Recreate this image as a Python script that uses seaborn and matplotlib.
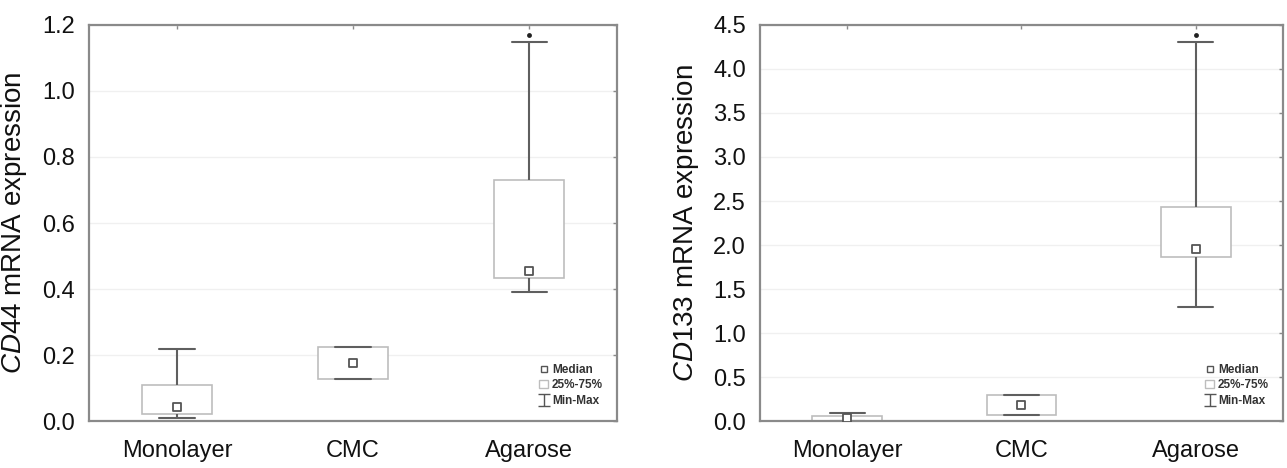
# Gráfico de cajas con la expresión de CD44 y CD133 en los tres tipos de cultivo

import numpy as np
import pandas as pd
import seaborn as sns
import matplotlib.pyplot as plt
from matplotlib.lines import Line2D
from matplotlib.patches import Patch
from matplotlib.path import Path

# Datos
grupos = ["Monolayer", "CMC", "Agarose"]

cd44_min = [0.010, 0.127, 0.390]
cd44_q1 = [0.022, 0.127, 0.433]
cd44_mediana = [0.042, 0.175, 0.455]
cd44_q3 = [0.110, 0.225, 0.730]
cd44_max = [0.218, 0.225, 1.147]
cd44_atipico_grupo = ["Agarose"]
cd44_atipico = [1.170]

cd133_min = [0.000, 0.068, 1.290]
cd133_q1 = [0.005, 0.068, 1.860]
cd133_mediana = [0.030, 0.180, 1.950]
cd133_q3 = [0.060, 0.295, 2.430]
cd133_max = [0.095, 0.295, 4.310]
cd133_atipico_grupo = ["Agarose"]
cd133_atipico = [4.390]

ticks_cd44 = [0.0, 0.2, 0.4, 0.6, 0.8, 1.0, 1.2]
ticks_cd133 = [0.0, 0.5, 1.0, 1.5, 2.0, 2.5, 3.0, 3.5, 4.0, 4.5]

sns.set_style("white")
plt.rcParams["font.family"] = ["Liberation Sans", "DejaVu Sans"]
plt.rcParams["mathtext.fontset"] = "custom"
plt.rcParams["mathtext.rm"] = "Liberation Sans"
plt.rcParams["mathtext.it"] = "Liberation Sans:italic"
plt.rcParams["text.color"] = "#111111"
plt.rcParams["axes.labelcolor"] = "#111111"
plt.rcParams["xtick.color"] = "#111111"
plt.rcParams["ytick.color"] = "#111111"

COLOR_CAJA = "#bdbdbd"
COLOR_BIGOTE = "#5f5f5f"
COLOR_EJE = "#8a8a8a"

# marcador en forma de "I" para la leyenda Min-Max
marca_i = Path(
    [(-1, 1), (1, 1), (0, 1), (0, -1), (-1, -1), (1, -1)],
    [Path.MOVETO, Path.LINETO, Path.MOVETO, Path.LINETO, Path.MOVETO, Path.LINETO],
)


def caja(ax, mins, q1, med, q3, maxs, at_grupo, at_valor, ticks, gen):
    """Dibuja un panel de cajas a partir de los cinco números de cada grupo."""
    valores = np.column_stack([mins, q1, med, q3, maxs]).ravel()
    df = pd.DataFrame({"grupo": np.repeat(grupos, 5), "valor": valores})

    sns.boxplot(
        data=df, x="grupo", y="valor", order=grupos, ax=ax,
        whis=(0, 100), width=0.4, color="white", linecolor=COLOR_CAJA,
        linewidth=1.2, showfliers=False,
        medianprops={"visible": False},
        whiskerprops={"color": COLOR_BIGOTE, "linewidth": 1.5},
        capprops={"color": COLOR_BIGOTE, "linewidth": 1.5},
    )
    # mediana como cuadrado hueco
    sns.stripplot(x=grupos, y=med, order=grupos, ax=ax, jitter=False,
                  marker="s", size=5.5, color="white", edgecolor="#555555",
                  linewidth=1.3, zorder=5)
    # valor atípico
    sns.stripplot(x=at_grupo, y=at_valor, order=grupos, ax=ax, jitter=False,
                  marker="o", size=3.5, color="#222222", zorder=5)

    ax.set_xlim(-0.5, 2.5)
    ax.set_ylim(ticks[0], ticks[-1])
    ax.set_yticks(ticks)
    ax.set_yticklabels([f"{t:.1f}" for t in ticks])
    ax.set_xlabel("")
    ax.set_ylabel(rf"$\mathit{{{gen}}}$ mRNA expression", fontsize=20)
    ax.yaxis.set_label_coords(-0.113, 0.5)

    ax.grid(axis="y", color="#f0f0f0", linewidth=1)
    ax.set_axisbelow(True)
    for lado in ["left", "right", "top", "bottom"]:
        ax.spines[lado].set_visible(True)
        ax.spines[lado].set_color(COLOR_EJE)
        ax.spines[lado].set_linewidth(1.6)
    ax.tick_params(axis="y", labelsize=17, length=0, pad=10)
    ax.tick_params(axis="x", labelsize=17, length=0, pad=14)
    # marcas pequeñas arriba y a la derecha
    ax.tick_params(top=True, right=True, direction="in", which="major")
    ax.tick_params(axis="x", top=True, length=3, width=1, color=COLOR_EJE,
                   bottom=False)
    ax.tick_params(axis="y", right=True, length=3, width=1, color=COLOR_EJE,
                   left=False)

    handles = [
        Line2D([], [], marker="s", linestyle="none", markersize=4,
               markerfacecolor="white", markeredgecolor="#555555"),
        Patch(facecolor="white", edgecolor=COLOR_CAJA),
        Line2D([], [], marker=marca_i, linestyle="none", markersize=9,
               markerfacecolor="none", markeredgecolor="#555555",
               markeredgewidth=1),
    ]
    ax.legend(handles, ["Median", "25%-75%", "Min-Max"], loc="lower right",
              frameon=False, prop={"size": 8.5, "weight": "bold"},
              handlelength=0.8, handletextpad=0.3, labelspacing=0.3,
              borderaxespad=0.8, labelcolor="#333333")


fig = plt.figure(figsize=(12.87, 4.68), dpi=100)
ax1 = fig.add_axes([0.0692, 0.1004, 0.4103, 0.8462])
ax2 = fig.add_axes([0.5905, 0.1004, 0.4064, 0.8462])

caja(ax1, cd44_min, cd44_q1, cd44_mediana, cd44_q3, cd44_max,
     cd44_atipico_grupo, cd44_atipico, ticks_cd44, "CD44")
caja(ax2, cd133_min, cd133_q1, cd133_mediana, cd133_q3, cd133_max,
     cd133_atipico_grupo, cd133_atipico, ticks_cd133, "CD133")

fig.savefig("out.png", dpi=100)
